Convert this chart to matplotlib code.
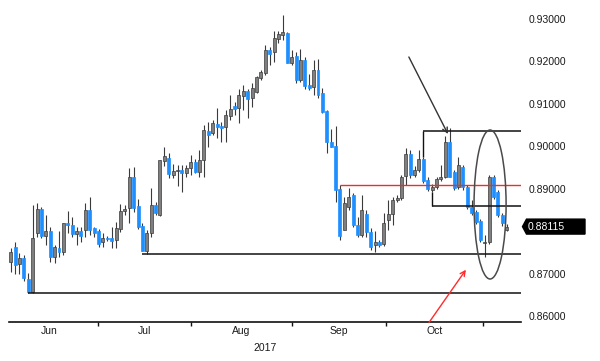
import matplotlib
matplotlib.use('Agg')
import matplotlib.pyplot as plt
from matplotlib.patches import Ellipse, Polygon
from matplotlib.transforms import blended_transform_factory

plt.rcParams['font.family'] = ['Liberation Sans', 'DejaVu Sans']

# ---- daily OHLC (trading-day index 0..113) ----
opens = [0.8728, 0.8764, 0.8724, 0.8738, 0.8688, 0.8658, 0.8796, 0.8853, 0.8789, 0.8801,
         0.8740, 0.8761, 0.8752, 0.8820, 0.8815, 0.8794, 0.8801, 0.8804, 0.8851, 0.8808,
         0.8801, 0.8775, 0.8785, 0.8785, 0.8780, 0.8806, 0.8848, 0.8855, 0.8928, 0.8860,
         0.8813, 0.8754, 0.8796, 0.8862, 0.8839, 0.8966, 0.8973, 0.8933, 0.8942, 0.8945,
         0.8938, 0.8949, 0.8964, 0.8940, 0.8968, 0.9036, 0.9032, 0.9053, 0.9048, 0.9046,
         0.9072, 0.9095, 0.9091, 0.9119, 0.9131, 0.9114, 0.9128, 0.9161, 0.9173, 0.9227,
         0.9222, 0.9253, 0.9262, 0.9267, 0.9196, 0.9213, 0.9157, 0.9204, 0.9145, 0.9140,
         0.9180, 0.9126, 0.9084, 0.9011, 0.9001, 0.8900, 0.8804, 0.8858, 0.8886, 0.8815,
         0.8792, 0.8841, 0.8799, 0.8768, 0.8775, 0.8771, 0.8827, 0.8841, 0.8874, 0.8879,
         0.8931, 0.8982, 0.8933, 0.8945, 0.8971, 0.8921, 0.8898, 0.8905, 0.8924, 0.8928,
         0.9011, 0.8940, 0.8905, 0.8952, 0.8905, 0.8858, 0.8846, 0.8825, 0.8773, 0.8775,
         0.8928, 0.8893, 0.8839, 0.8804]
highs = [0.8761, 0.8775, 0.8749, 0.8745, 0.8702, 0.8862, 0.8867, 0.8858, 0.8839, 0.8811,
         0.8768, 0.8801, 0.8820, 0.8848, 0.8834, 0.8811, 0.8811, 0.8867, 0.8881, 0.8811,
         0.8806, 0.8796, 0.8789, 0.8811, 0.8822, 0.8865, 0.8862, 0.8949, 0.8952, 0.8876,
         0.8820, 0.8804, 0.8902, 0.8869, 0.8968, 0.8999, 0.8985, 0.8959, 0.8957, 0.8957,
         0.8957, 0.8980, 0.8971, 0.8992, 0.9051, 0.9058, 0.9062, 0.9091, 0.9058, 0.9086,
         0.9121, 0.9105, 0.9135, 0.9145, 0.9135, 0.9149, 0.9166, 0.9180, 0.9239, 0.9234,
         0.9272, 0.9272, 0.9309, 0.9269, 0.9227, 0.9222, 0.9230, 0.9211, 0.9171, 0.9204,
         0.9206, 0.9138, 0.9086, 0.9041, 0.9048, 0.8909, 0.8881, 0.8902, 0.8891, 0.8834,
         0.8886, 0.8851, 0.8808, 0.8801, 0.8780, 0.8844, 0.8874, 0.8881, 0.8886, 0.8933,
         0.8997, 0.8992, 0.8954, 0.8992, 0.8975, 0.8928, 0.8912, 0.8928, 0.8957, 0.9025,
         0.9044, 0.8945, 0.8975, 0.8957, 0.8909, 0.8874, 0.8851, 0.8829, 0.8792, 0.8933,
         0.8933, 0.8898, 0.8844, 0.8818]
lows = [0.8705, 0.8700, 0.8700, 0.8684, 0.8656, 0.8656, 0.8787, 0.8785, 0.8768, 0.8728,
        0.8726, 0.8740, 0.8745, 0.8796, 0.8787, 0.8768, 0.8775, 0.8787, 0.8792, 0.8787,
        0.8764, 0.8764, 0.8778, 0.8761, 0.8761, 0.8799, 0.8839, 0.8820, 0.8846, 0.8806,
        0.8754, 0.8747, 0.8787, 0.8839, 0.8837, 0.8954, 0.8926, 0.8926, 0.8907, 0.8893,
        0.8928, 0.8933, 0.8938, 0.8928, 0.8928, 0.8999, 0.9027, 0.9020, 0.9011, 0.9011,
        0.9062, 0.9074, 0.9055, 0.9086, 0.9067, 0.9093, 0.9126, 0.9157, 0.9168, 0.9192,
        0.9199, 0.9244, 0.9251, 0.9196, 0.9192, 0.9149, 0.9152, 0.9135, 0.9133, 0.9121,
        0.9114, 0.9079, 0.8985, 0.8999, 0.8869, 0.8780, 0.8804, 0.8851, 0.8811, 0.8787,
        0.8787, 0.8787, 0.8757, 0.8752, 0.8764, 0.8766, 0.8804, 0.8815, 0.8869, 0.8874,
        0.8909, 0.8926, 0.8928, 0.8940, 0.8914, 0.8895, 0.8893, 0.8900, 0.8919, 0.8926,
        0.8928, 0.8898, 0.8900, 0.8898, 0.8853, 0.8839, 0.8818, 0.8775, 0.8740, 0.8771,
        0.8876, 0.8834, 0.8813, 0.8801]
closes = [0.8752, 0.8721, 0.8738, 0.8691, 0.8658, 0.8785, 0.8853, 0.8789, 0.8801, 0.8740,
          0.8764, 0.8752, 0.8820, 0.8815, 0.8794, 0.8801, 0.8789, 0.8851, 0.8804, 0.8796,
          0.8771, 0.8785, 0.8782, 0.8778, 0.8808, 0.8848, 0.8853, 0.8928, 0.8855, 0.8811,
          0.8754, 0.8796, 0.8862, 0.8844, 0.8968, 0.8978, 0.8935, 0.8942, 0.8945, 0.8938,
          0.8949, 0.8964, 0.8940, 0.8968, 0.9039, 0.9027, 0.9055, 0.9046, 0.9044, 0.9074,
          0.9088, 0.9088, 0.9121, 0.9131, 0.9112, 0.9138, 0.9164, 0.9175, 0.9227, 0.9218,
          0.9255, 0.9265, 0.9269, 0.9196, 0.9211, 0.9157, 0.9204, 0.9142, 0.9138, 0.9180,
          0.9121, 0.9081, 0.9011, 0.8999, 0.8898, 0.8789, 0.8867, 0.8881, 0.8815, 0.8792,
          0.8851, 0.8799, 0.8764, 0.8775, 0.8768, 0.8820, 0.8841, 0.8874, 0.8879, 0.8928,
          0.8982, 0.8933, 0.8945, 0.8971, 0.8919, 0.8900, 0.8905, 0.8924, 0.8928, 0.9011,
          0.8928, 0.8902, 0.8957, 0.8905, 0.8858, 0.8844, 0.8822, 0.8780, 0.8775, 0.8928,
          0.8881, 0.8839, 0.8820, 0.88115]

# ---- axis labelling ----
month_bounds = [-2.5, 19.9, 41.1, 64.1, 85.5, 107.6]
month_labels = ['Jun', 'Jul', 'Aug', 'Sep', 'Oct']
year_label = '2017'
price_ticks = [0.86, 0.87, 0.89, 0.90, 0.91, 0.92, 0.93]  # 0.88 hidden behind last-price tag

# ---- annotation levels ----
support_low = 0.8655
support_low_start = 4
support_mid = 0.8747
support_mid_start = 30
red_level = 0.8909
red_start = 75
box_top = 0.90365
box_top_start = 94
box_bottom = 0.8860
box_bottom_start = 96

W, H = 600, 361
fig = plt.figure(figsize=(W / 100, H / 100), dpi=100)
ax = fig.add_axes([9.4 / W, 39.5 / H, 511.4 / W, 321.5 / H])
XMIN, XMAX = -0.3, 116.2
YMIN, YMAX = 0.85882, 0.93447

GRAY = '#7f7f7f'
BLUE = '#1e8fff'
WICK = '#3a3a3a'
n = len(opens)
xs = list(range(n))
up = [c >= o for o, c in zip(opens, closes)]
ax.vlines(xs, lows, highs, colors=WICK, linewidth=0.8, zorder=2)
bottoms = [min(o, c) for o, c in zip(opens, closes)]
heights = [max(abs(c - o), 0.00022) for o, c in zip(opens, closes)]
cols = [GRAY if u else BLUE for u in up]
edges = ['#3c3c3c' if u else BLUE for u in up]
ax.bar(xs, heights, bottom=bottoms, width=0.68, color=cols, edgecolor=edges,
       linewidth=0.5, zorder=3)

# ---- horizontal levels ----
lc = '#111111'
ax.hlines(support_low, support_low_start, XMAX, colors=lc, linewidth=1.1, zorder=4)
ax.hlines(support_mid, support_mid_start, XMAX, colors=lc, linewidth=1.1, zorder=4)
ax.hlines(red_level, red_start, XMAX, colors='#e8302a', linewidth=1.0, zorder=4)
ax.hlines(box_top, box_top_start, XMAX, colors=lc, linewidth=1.1, zorder=4)
ax.vlines(box_top_start, highs[box_top_start], box_top, colors=lc, linewidth=1.0, zorder=4)
ax.hlines(box_bottom, box_bottom_start, XMAX, colors=lc, linewidth=1.1, zorder=4)
ax.vlines(box_bottom_start, box_bottom, lows[box_bottom_start], colors=lc, linewidth=1.0, zorder=4)

# ---- ellipse and arrows ----
ax.add_patch(Ellipse((109.2, 0.88635), 7.3, 0.03506, fill=False,
                     edgecolor='#4a4a4a', linewidth=1.1, zorder=5))
ax.annotate('', xy=(99.6, 0.90294), xytext=(90.7, 0.92106),
            arrowprops=dict(arrowstyle='->', color='#333333', lw=1.0,
                            mutation_scale=9, shrinkA=0, shrinkB=0), zorder=5)
ax.annotate('', xy=(103.7, 0.8710), xytext=(95.3, 0.8586),
            arrowprops=dict(arrowstyle='->', color='#ff2b2b', lw=1.0,
                            mutation_scale=9, shrinkA=0, shrinkB=0),
            annotation_clip=False, zorder=5)

# ---- spines and ticks ----
for s in ['top', 'left', 'right']:
    ax.spines[s].set_visible(False)
ax.spines['bottom'].set_linewidth(1.2)
ax.spines['bottom'].set_color('#111111')

ax.set_xticks(month_bounds)
ax.set_xticklabels([''] * len(month_bounds))
ax.tick_params(axis='x', which='major', direction='out', length=3, width=1, color='#111111')
mids = [(month_bounds[i] + month_bounds[i + 1]) / 2 for i in range(len(month_labels))]
ax.set_xticks(mids, minor=True)
ax.set_xticklabels(month_labels, minor=True)
ax.tick_params(axis='x', which='minor', length=0, pad=3.5, labelsize=7.5, labelcolor='#1a1a1a')
ax.set_xlabel(year_label, fontsize=7.5, color='#1a1a1a', labelpad=5)

ax.yaxis.tick_right()
ax.set_yticks(price_ticks)
ax.set_yticklabels([f'{v:.5f}' for v in price_ticks])
ax.tick_params(axis='y', length=0, pad=5.3, labelsize=7.5, labelcolor='#1a1a1a')

# limits last (set_xticks may expand them)
ax.set_xlim(XMIN, XMAX)
ax.set_ylim(YMIN, YMAX)

# ---- last price tag ----
last_price = closes[-1]
tr = blended_transform_factory(fig.transFigure, ax.transData)
h = 0.00176
tag = Polygon([(522.5 / W, last_price), (526.5 / W, last_price + h), (585 / W, last_price + h),
               (585 / W, last_price - h), (526.5 / W, last_price - h)],
              closed=True, facecolor='black', edgecolor='black', transform=tr,
              clip_on=False, zorder=10)
fig.add_artist(tag)
t = fig.text(527.5 / W, last_price, f'{last_price:.5f}', color='white', fontsize=7.5,
             va='center', ha='left', zorder=11)
t.set_transform(tr)

fig.savefig('out.png', dpi=100)
